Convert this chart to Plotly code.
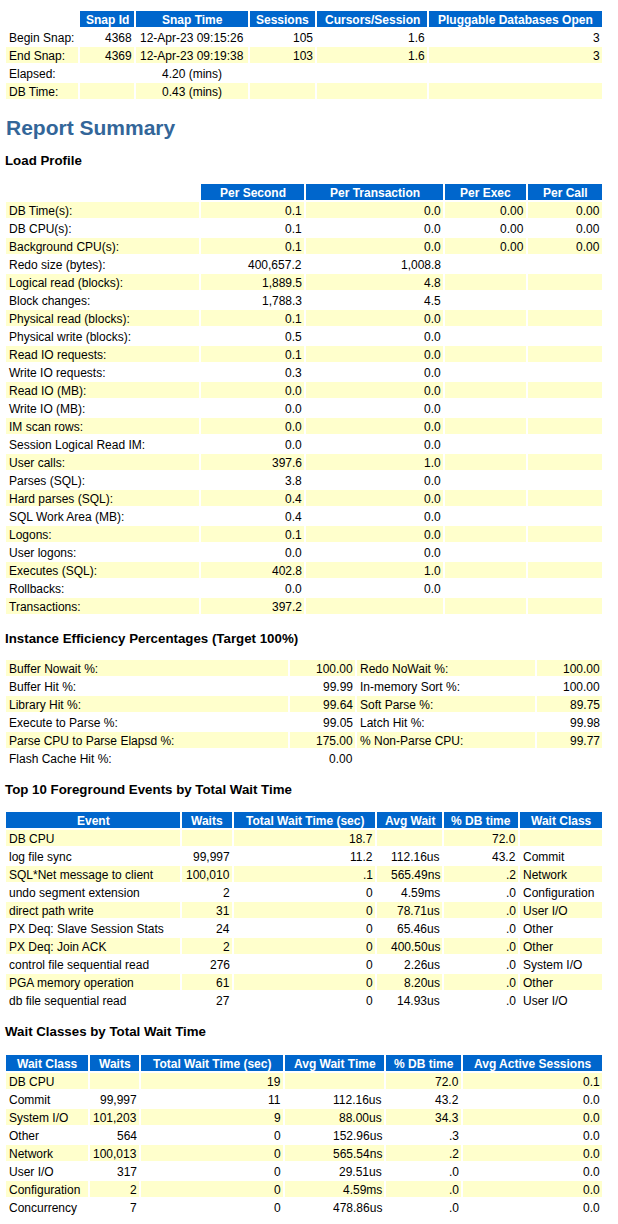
import plotly.graph_objects as go

W, H = 618, 1224
FONT = "Liberation Sans, Arial, Helvetica, sans-serif"
HDR_BG = "#0066CC"
YEL = "#FFFFCC"
TITLE_BLUE = "#336699"

# ---------------- Data ----------------
# Snapshot table
snap_headers = ["", "Snap Id", "Snap Time", "Sessions", "Cursors/Session", "Pluggable Databases Open"]
snap_labels = ["Begin Snap:", "End Snap:", "Elapsed:", "DB Time:"]
snap_ids = ["4368", "4369", "", ""]
snap_times = ["12-Apr-23 09:15:26", "12-Apr-23 09:19:38", "4.20 (mins)", "0.43 (mins)"]
snap_sessions = ["105", "103", "", ""]
snap_cursors = ["1.6", "1.6", "", ""]
snap_pdbs = ["3", "3", "", ""]

# Load profile
lp_headers = ["", "Per Second", "Per Transaction", "Per Exec", "Per Call"]
lp_labels = ["DB Time(s):", "DB CPU(s):", "Background CPU(s):", "Redo size (bytes):",
             "Logical read (blocks):", "Block changes:", "Physical read (blocks):",
             "Physical write (blocks):", "Read IO requests:", "Write IO requests:",
             "Read IO (MB):", "Write IO (MB):", "IM scan rows:", "Session Logical Read IM:",
             "User calls:", "Parses (SQL):", "Hard parses (SQL):", "SQL Work Area (MB):",
             "Logons:", "User logons:", "Executes (SQL):", "Rollbacks:", "Transactions:"]
lp_per_second = ["0.1", "0.1", "0.1", "400,657.2", "1,889.5", "1,788.3", "0.1", "0.5", "0.1",
                 "0.3", "0.0", "0.0", "0.0", "0.0", "397.6", "3.8", "0.4", "0.4", "0.1", "0.0",
                 "402.8", "0.0", "397.2"]
lp_per_txn = ["0.0", "0.0", "0.0", "1,008.8", "4.8", "4.5", "0.0", "0.0", "0.0", "0.0", "0.0",
              "0.0", "0.0", "0.0", "1.0", "0.0", "0.0", "0.0", "0.0", "0.0", "1.0", "0.0", ""]
lp_per_exec = ["0.00", "0.00", "0.00"] + [""] * 20
lp_per_call = ["0.00", "0.00", "0.00"] + [""] * 20

# Instance efficiency
ie_labels1 = ["Buffer Nowait %:", "Buffer Hit %:", "Library Hit %:", "Execute to Parse %:",
              "Parse CPU to Parse Elapsd %:", "Flash Cache Hit %:"]
ie_values1 = ["100.00", "99.99", "99.64", "99.05", "175.00", "0.00"]
ie_labels2 = ["Redo NoWait %:", "In-memory Sort %:", "Soft Parse %:", "Latch Hit %:",
              "% Non-Parse CPU:", None]
ie_values2 = ["100.00", "100.00", "89.75", "99.98", "99.77", None]

# Top 10 foreground events
ev_headers = ["Event", "Waits", "Total Wait Time (sec)", "Avg Wait", "% DB time", "Wait Class"]
ev_names = ["DB CPU", "log file sync", "SQL*Net message to client", "undo segment extension",
            "direct path write", "PX Deq: Slave Session Stats", "PX Deq: Join ACK",
            "control file sequential read", "PGA memory operation", "db file sequential read"]
ev_waits = ["", "99,997", "100,010", "2", "31", "24", "2", "276", "61", "27"]
ev_total = ["18.7", "11.2", ".1", "0", "0", "0", "0", "0", "0", "0"]
ev_avg = ["", "112.16us", "565.49ns", "4.59ms", "78.71us", "65.46us", "400.50us",
          "2.26us", "8.20us", "14.93us"]
ev_pct = ["72.0", "43.2", ".2", ".0", ".0", ".0", ".0", ".0", ".0", ".0"]
ev_class = ["", "Commit", "Network", "Configuration", "User I/O", "Other", "Other",
            "System I/O", "Other", "User I/O"]

# Wait classes
wc_headers = ["Wait Class", "Waits", "Total Wait Time (sec)", "Avg Wait Time", "% DB time",
              "Avg Active Sessions"]
wc_names = ["DB CPU", "Commit", "System I/O", "Other", "Network", "User I/O",
            "Configuration", "Concurrency"]
wc_waits = ["", "99,997", "101,203", "564", "100,013", "317", "2", "7"]
wc_total = ["19", "11", "9", "0", "0", "0", "0", "0"]
wc_avg = ["", "112.16us", "88.00us", "152.96us", "565.54ns", "29.51us", "4.59ms", "478.86us"]
wc_pct = ["72.0", "43.2", "34.3", ".3", ".2", ".0", ".0", ".0"]
wc_aas = ["0.1", "0.0", "0.0", "0.0", "0.0", "0.0", "0.0", "0.0"]

# ---------------- Layout helpers ----------------
shapes = []
annotations = []
ROW_H = 16
PITCH = 18


def add_text(x, y, text, anchor, size=12, color="black", bold=False):
    if text is None or text == "":
        return
    t = "<b>%s</b>" % text if bold else text
    annotations.append(dict(
        x=x, y=y, xref="x", yref="y", text=t, showarrow=False,
        xanchor=anchor, yanchor="middle", borderpad=0,
        font=dict(family=FONT, size=size, color=color),
    ))


def add_rect(x0, x1, y0, y1, color):
    shapes.append(dict(type="rect", xref="x", yref="y", x0=x0, x1=x1, y0=y0, y1=y1,
                       fillcolor=color, line=dict(width=0), layer="below"))


def cell_text(edges, j, top, text, align, **kw):
    l, r = edges[j]
    yc = top + ROW_H / 2 + 0.5
    if align == "left":
        add_text(l + 2, yc, text, "left", **kw)
    elif align == "right":
        add_text(r - 1, yc, text, "right", **kw)
    else:
        add_text((l + r) / 2, yc, text, "center", **kw)


def draw_table(edges, aligns, headers, columns, header_top, first_row_top, first_yellow):
    if headers is not None:
        for j, h in enumerate(headers):
            if h:
                add_rect(edges[j][0], edges[j][1], header_top, header_top + ROW_H, HDR_BG)
                cell_text(edges, j, header_top, h, "center", color="white", bold=True)
    nrows = len(columns[0])
    for i in range(nrows):
        top = first_row_top + PITCH * i
        yellow = (i % 2 == 0) == first_yellow
        for j, col in enumerate(columns):
            val = col[i]
            if val is None:
                continue
            if yellow:
                add_rect(edges[j][0], edges[j][1], top, top + ROW_H, YEL)
            cell_text(edges, j, top, val, aligns[j])


# Snapshot table
snap_edges = [(6, 78), (80, 134), (136, 248), (250, 315), (317, 427), (429, 602)]
draw_table(snap_edges, ["left", "right", "center", "right", "right", "right"], snap_headers,
           [snap_labels, snap_ids, snap_times, snap_sessions, snap_cursors, snap_pdbs],
           11, 29, False)

# Headings
add_text(5, 127, "Report Summary", "left", size=21, color=TITLE_BLUE, bold=True)
add_text(4, 160.5, "Load Profile", "left", size=13.3, bold=True)

lp_edges = [(6, 199), (201, 304), (306, 443), (445, 526), (528, 602)]
draw_table(lp_edges, ["left", "right", "right", "right", "right"], lp_headers,
           [lp_labels, lp_per_second, lp_per_txn, lp_per_exec, lp_per_call],
           184, 202, True)

add_text(4, 638, "Instance Efficiency Percentages (Target 100%)", "left", size=13.3, bold=True)
ie_edges = [(6, 288), (290, 355), (357, 535), (537, 602)]
draw_table(ie_edges, ["left", "right", "left", "right"], None,
           [ie_labels1, ie_values1, ie_labels2, ie_values2], 0, 660, True)

add_text(4, 789.5, "Top 10 Foreground Events by Total Wait Time", "left", size=13.3, bold=True)
ev_edges = [(6, 180), (182, 232), (234, 375), (377, 442), (444, 518), (520, 602)]
draw_table(ev_edges, ["left", "right", "right", "right", "right", "left"], ev_headers,
           [ev_names, ev_waits, ev_total, ev_avg, ev_pct, ev_class], 812, 830, True)

add_text(4, 1031.5, "Wait Classes by Total Wait Time", "left", size=13.3, bold=True)
wc_edges = [(6, 88), (90, 139), (141, 283), (285, 384), (386, 461), (463, 602)]
draw_table(wc_edges, ["left", "right", "right", "right", "right", "right"], wc_headers,
           [wc_names, wc_waits, wc_total, wc_avg, wc_pct, wc_aas], 1055, 1073, True)

fig = go.Figure()
fig.add_trace(go.Scatter(x=[0, W], y=[0, H], mode="markers", marker=dict(opacity=0),
                         hoverinfo="skip", showlegend=False))
fig.update_layout(
    width=W, height=H, margin=dict(l=0, r=0, t=0, b=0),
    paper_bgcolor="white", plot_bgcolor="white",
    shapes=shapes, annotations=annotations, showlegend=False,
    xaxis=dict(range=[0, W], visible=False, fixedrange=True),
    yaxis=dict(range=[H, 0], visible=False, fixedrange=True),
)
fig.write_html("out.html", config={"displayModeBar": False},
               post_script="document.body.style.margin='0px';document.body.style.overflow='hidden';")
